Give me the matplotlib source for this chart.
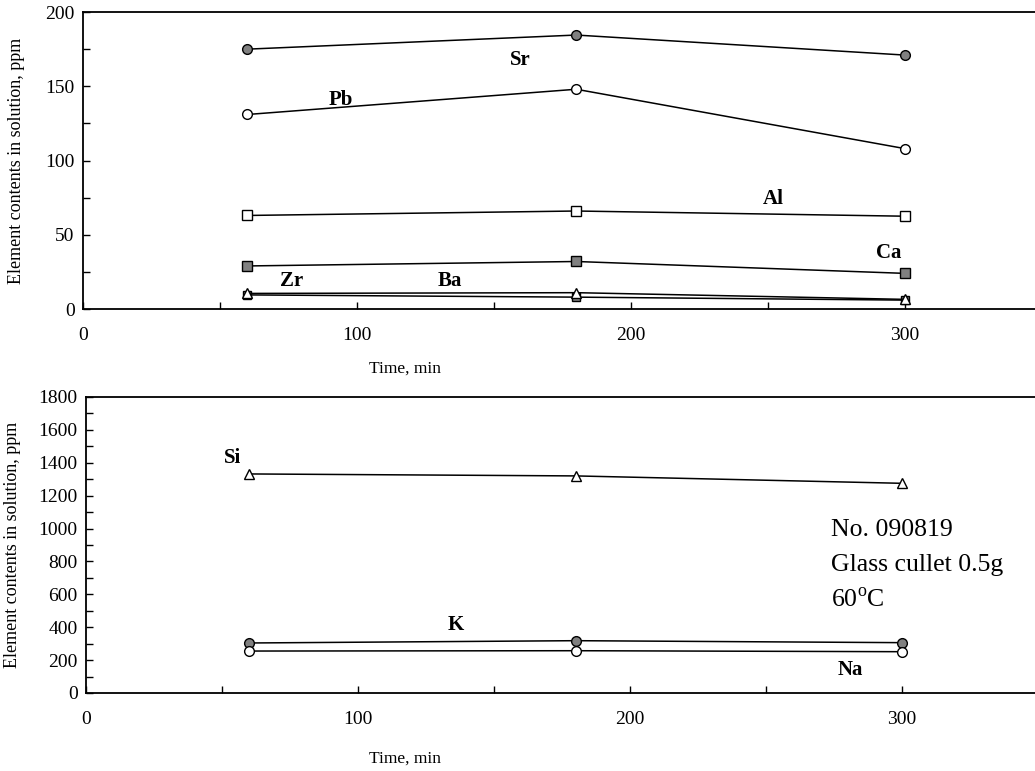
import matplotlib
matplotlib.use("Agg")
import matplotlib.pyplot as plt
from matplotlib.ticker import MultipleLocator

plt.rcParams["font.family"] = ["Liberation Serif", "DejaVu Serif"]
plt.rcParams["mathtext.fontset"] = "custom"
plt.rcParams["mathtext.rm"] = "Liberation Serif"

# Sampling times
time_min = [60, 180, 300]

# Minor elements (ppm)
sr = [175, 184.5, 171]
pb = [131, 148, 108]
al = [63, 66, 62.5]
ca = [29, 32, 24]
ba = [9.5, 8, 6]
zr = [10.5, 11, 6.5]

# Major elements (ppm)
si = [1332, 1320, 1275]
k = [304, 318, 306]
na = [255, 257, 251]

GRAY = "#808080"

fig = plt.figure(figsize=(10.35, 7.71), dpi=100)

ax1 = fig.add_axes([0.0802, 0.5992, 0.9266, 0.3852])
ax2 = fig.add_axes([0.0831, 0.1012, 0.9200, 0.3839])


def line(ax, y, marker, face, size=7):
    ax.plot(
        time_min,
        y,
        color="black",
        linewidth=1.1,
        marker=marker,
        markersize=size,
        markerfacecolor=face,
        markeredgecolor="black",
        markeredgewidth=1.0,
        clip_on=False,
        zorder=3
    )


# Top panel
line(ax1, sr, "o", GRAY)
line(ax1, pb, "o", "white")
line(ax1, al, "s", "white")
line(ax1, ca, "s", GRAY)
line(ax1, ba, "s", GRAY, 6)
line(ax1, zr, "^", "white", 7.5)

ax1.set_xlim(0, 350)
ax1.set_ylim(0, 200)
ax1.yaxis.set_major_locator(MultipleLocator(50))
ax1.yaxis.set_minor_locator(MultipleLocator(25))

labels_top = [
    ("Sr", 159.5, 167.5),
    ("Pb", 94, 141),
    ("Al", 252, 74),
    ("Ca", 294, 38),
    ("Zr", 76, 19),
    ("Ba", 134, 19),
]
for name, x, y in labels_top:
    ax1.text(x, y, name, fontsize=15, fontweight="bold",
             ha="center", va="center")

# Bottom panel
line(ax2, si, "^", "white", 7.5)
line(ax2, k, "o", GRAY)
line(ax2, na, "o", "white")

ax2.set_xlim(0, 350)
ax2.set_ylim(0, 1800)
ax2.yaxis.set_major_locator(MultipleLocator(200))
ax2.yaxis.set_minor_locator(MultipleLocator(100))

labels_bottom = [
    ("Si", 54, 1430),
    ("K", 136, 414),
    ("Na", 281, 140),
]
for name, x, y in labels_bottom:
    ax2.text(x, y, name, fontsize=15, fontweight="bold",
             ha="center", va="center")

ax2.text(274, 991, "No. 090819", fontsize=18.5, va="center")
ax2.text(274, 779, "Glass cullet 0.5g", fontsize=18.5, va="center")
ax2.text(274, 566, r"60$^{\mathrm{o}}$C", fontsize=18.5, va="center")

for ax in (ax1, ax2):
    ax.xaxis.set_major_locator(MultipleLocator(100))
    ax.xaxis.set_minor_locator(MultipleLocator(50))
    ax.tick_params(which="both", direction="in", length=5, width=1,
                   labelsize=14, top=False, right=False)
    ax.tick_params(axis="x", which="both", pad=13)
    ax.tick_params(axis="y", which="both", pad=6)
    for side in ("left", "bottom", "top"):
        ax.spines[side].set_linewidth(1.3)
    ax.spines["right"].set_visible(False)
    ax.set_xlabel("Time, min", fontsize=12.5)
    ax.set_ylabel("Element contents in solution, ppm", fontsize=13)

ax1.xaxis.set_label_coords(0.336, -0.175)
ax1.yaxis.set_label_coords(-0.060, 0.5)
ax2.xaxis.set_label_coords(0.335, -0.196)
ax2.yaxis.set_label_coords(-0.068, 0.5)

plt.savefig("out.png", dpi=100)
plt.close()
